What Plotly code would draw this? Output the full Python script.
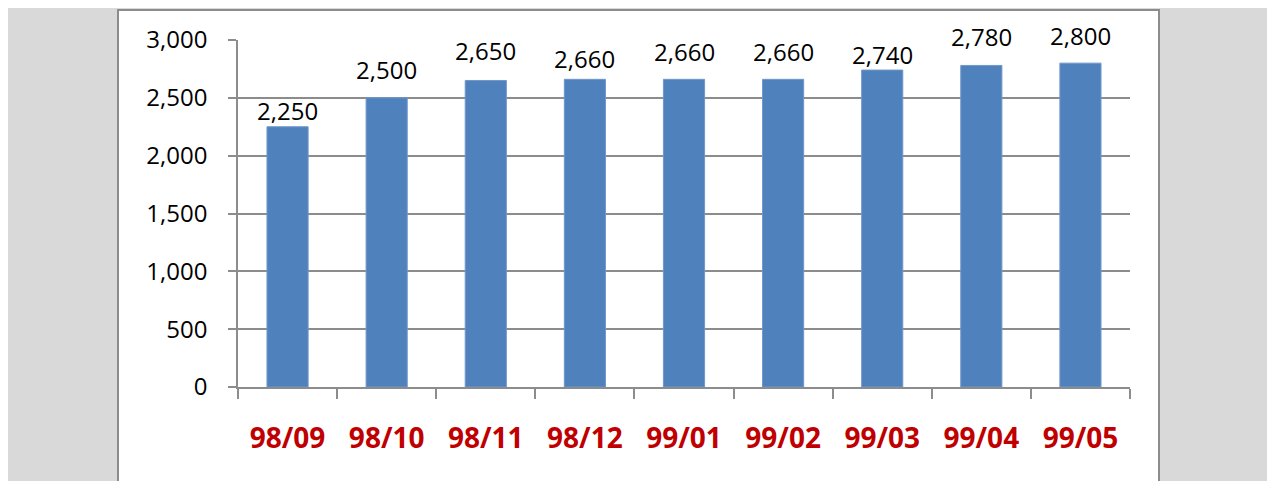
import plotly.graph_objects as go

categories = ["98/09", "98/10", "98/11", "98/12", "99/01", "99/02", "99/03", "99/04", "99/05"]
values = [2250, 2500, 2650, 2660, 2660, 2660, 2740, 2780, 2800]
y_tickvals = [0, 500, 1000, 1500, 2000, 2500, 3000]

# page body has an 8px margin, so the figure starts at (8, 8) in the window
OFF = 8
W, H = 1275 - OFF, 481 - OFF
L = 238 - OFF
T = 40 - OFF
R = W - (1130 - OFF)
B = H - (387 - OFF)
PW, PH = W - L - R, H - T - B

# pixel gap between each bar top and the bottom of its value label (as placed in the original)
label_gap_px = [6, 18, 19, 10, 17, 17, 5, 18, 17]


def px_x(px):
    return (px - OFF - L) / PW


def px_y(py):
    return (H - B - (py - OFF)) / PH


fig = go.Figure()
fig.add_trace(go.Bar(
    x=categories,
    y=values,
    marker=dict(color="#4f81bd", line=dict(color="#6f97cb", width=1)),
    hoverinfo="skip",
))

annotations = [
    dict(x=c, y=v, xref="x", yref="y", text=f"{v:,}", showarrow=False,
         xanchor="center", yanchor="bottom", yshift=g - 8,
         font=dict(family="Open Sans", size=24, color="#000000"))
    for c, v, g in zip(categories, values, label_gap_px)
]

grid = "#8c8c8c"
fig.update_layout(
    width=W, height=H,
    margin=dict(l=L, r=R, t=T, b=B, pad=0),
    paper_bgcolor="#ffffff",
    plot_bgcolor="rgba(0,0,0,0)",
    showlegend=False,
    bargap=0.585,
    font=dict(family="Open Sans", color="#000000"),
    annotations=annotations,
    shapes=[
        dict(type="rect", xref="paper", yref="paper", layer="below",
             x0=px_x(7), x1=px_x(1271), y0=px_y(8), y1=px_y(520),
             fillcolor="#d9d9d9", line=dict(width=0)),
        dict(type="rect", xref="paper", yref="paper", layer="below",
             x0=px_x(118), x1=px_x(1159), y0=px_y(10), y1=px_y(520),
             fillcolor="#ffffff", line=dict(color="#8c8c8c", width=2)),
    ],
    xaxis=dict(
        type="category",
        showgrid=False,
        showline=True, linecolor=grid, linewidth=1.5,
        ticks="outside", ticklen=10, tickcolor=grid, tickwidth=1.5,
        tickson="boundaries",
        tickfont=dict(family="Open Sans", size=28, color="#c00000", weight="bold"),
        ticklabelstandoff=26,
        range=[-0.5, len(categories) - 0.5],
    ),
    yaxis=dict(
        range=[0, 3000],
        tickvals=y_tickvals,
        tickformat=",",
        showgrid=True, gridcolor=grid, gridwidth=1.5,
        showline=True, linecolor=grid, linewidth=1.5,
        ticks="outside", ticklen=8, tickcolor=grid, tickwidth=1.5,
        tickfont=dict(family="Open Sans", size=24, color="#000000"),
        ticklabelstandoff=16,
        zeroline=False,
    ),
)

fig.write_html("out.html")
